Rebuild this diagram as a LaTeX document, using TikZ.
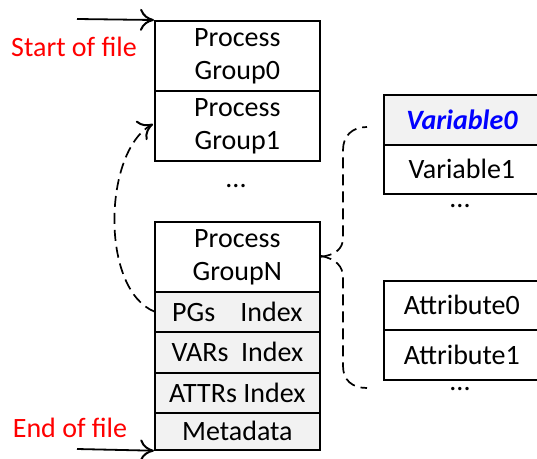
\documentclass[tikz,border=0pt]{standalone}
\usepackage{fontspec}
\setmainfont{Carlito}
\usetikzlibrary{arrows.meta}
\definecolor{cellgray}{HTML}{F2F2F2}
\tikzset{
  x=1pt, y=-1pt,
  txt/.style={font=\fontsize{28}{33}\selectfont},
  cell/.style={draw, line width=1.7pt, inner sep=0pt, align=center, txt,
    anchor=north west},
  leftcell/.style={cell, minimum width=165pt},
  rightcell/.style={cell, minimum width=156pt},
  idx/.style={fill=cellgray},
  label/.style={txt, text=red, inner sep=0pt},
  dots/.style={txt, inner sep=0pt},
  tip/.style={-{Computer Modern Rightarrow[length=14pt,width=22pt,line width=2pt]}},
  ptr/.style={line width=1.8pt, tip},
  link/.style={line width=1.7pt, dash pattern=on 11pt off 6pt},
}
\begin{document}
\begin{tikzpicture}
\useasboundingbox (0,0) rectangle (537,458);

% file layout column
\node[leftcell, minimum height=70pt] (pg0) at (154,20) {Process\\Group0};
\node[leftcell, minimum height=70pt] (pg1) at (154,90) {Process\\Group1};
\node[dots] (dotsA) at (236,186) {...};
\node[leftcell, minimum height=70pt] (pgN) at (154,221) {Process\\GroupN};
\node[leftcell, idx, minimum height=40pt] (pgidx) at (154,291) {PGs\hspace{0.9em}Index};
\node[leftcell, idx, minimum height=41pt] (varidx) at (154,331) {VARs\hspace{0.45em}Index};
\node[leftcell, idx, minimum height=40pt] (attridx) at (154,372) {ATTRs Index};
\node[leftcell, idx, minimum height=37pt] (meta) at (154,412) {Metadata};

% variables list
\node[rightcell, idx, minimum height=50pt, text=blue, font=\fontsize{28}{33}\selectfont\bfseries\itshape] (var0) at (383,94) {Variable0};
\node[rightcell, minimum height=49pt] (var1) at (383,144) {Variable1};
\node[dots] (dotsB) at (460,206) {...};

% attributes list
\node[rightcell, minimum height=49pt] (attr0) at (383,280) {Attribute0};
\node[rightcell, minimum height=50pt] (attr1) at (383,329) {Attribute1};
\node[dots] (dotsC) at (460,389) {...};

% start / end markers
\node[label] (startlbl) at (74,47) {Start of file};
\node[label] (endlbl) at (70,428) {End of file};
\coordinate (startin) at (77,19);
\coordinate (endin) at (77,449);
\draw[ptr] (startin) -- (pg0.north west);
\draw[ptr] (endin) -- (meta.south west);

% index points back to the process groups
\coordinate (pg1in) at (153,124);
\draw[link, tip]
  ([xshift=1pt]pgidx.west) .. controls (100,290) and (103,152) .. (pg1in);

% brace from a process group to its variables and attributes
\coordinate (braceUp) at (367,127);
\coordinate (braceDown) at (367,388);
\draw[link] (pgN.east) .. controls (335,255) and (343,249) .. (343,238)
  -- (343,150) .. controls (343,136) and (352,127) .. (braceUp);
\draw[link] ([yshift=1pt]pgN.east) .. controls (336,259) and (343,266) .. (343,278)
  -- (343,366) .. controls (343,380) and (352,388) .. (braceDown);
\end{tikzpicture}
\end{document}
